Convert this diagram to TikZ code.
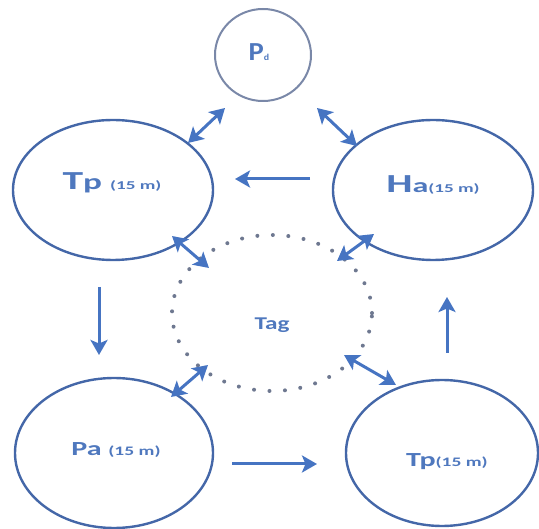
\documentclass[tikz,border=0pt]{standalone}
\usepackage{fontspec}
\setmainfont{Carlito}
\usetikzlibrary{shapes.geometric,arrows.meta}
\definecolor{edge}{HTML}{4467A8}
\definecolor{arr}{HTML}{4674C2}
\definecolor{lbl}{HTML}{4F78BE}
\definecolor{dots}{HTML}{6E7890}
\definecolor{pdring}{HTML}{7A88A8}
\newcommand{\fs}[1]{\fontsize{#1}{#1}\selectfont}
\newcommand{\wide}[2]{\scalebox{#1}[1]{#2}}
\begin{document}
\begin{tikzpicture}[x=1pt,y=-1pt,
  state/.style={ellipse, draw=edge, line width=2.4pt, inner sep=0pt},
  lab/.style={text=lbl, font=\bfseries, anchor=base, inner sep=0pt},
  link/.style={draw=arr, line width=3pt, -{Stealth[length=15pt,width=17pt,inset=3.5pt]}},
  both/.style={draw=arr, line width=3pt, {Stealth[length=15pt,width=17pt,inset=3.5pt]}-{Stealth[length=15pt,width=17pt,inset=3.5pt]}}]
\useasboundingbox (0,0) rectangle (539,529);

% states
\node[ellipse, draw=pdring, line width=2pt, minimum width=96pt, minimum height=92pt] (pd) at (263,55) {};
\node[lab] (pdt) at (259,61) {\wide{1.1}{\fs{26}P\fs{9}d}};
\node[state, minimum width=200pt, minimum height=140pt] (tpa) at (113,190) {};
\node[lab] (tpat) at (112,190) {\wide{1.6}{\fs{26}T\fs{22}p \fs{12}(15 m)}};
\node[state, minimum width=200pt, minimum height=140pt] (ha) at (433,190) {};
\node[lab] (hat) at (433,193) {\wide{1.6}{\fs{26}H\fs{20}a\fs{12}(15 m)}};
\node[ellipse, draw=dots, line width=4pt, dash pattern=on 0pt off 15.5pt, line cap=round,
      minimum width=200pt, minimum height=156pt] (tag) at (272,313) {};
\node[lab] (tagt) at (272,330) {\wide{1.4}{\fs{18}Tag}};
\node[state, minimum width=198pt, minimum height=150pt] (pa) at (114,453) {};
\node[lab] (pat) at (116,456) {\wide{1.5}{\fs{20}Pa \fs{13}(15 m)}};
\node[state, minimum width=192pt, minimum height=146pt] (tpb) at (442,453) {};
\node[lab] (tpbt) at (447,467) {\wide{1.5}{\fs{20}Tp\fs{13}(15 m)}};

% arrow end points
\coordinate (a1) at (188,143);
\coordinate (a2) at (225,108);
\coordinate (b1) at (317,108);
\coordinate (b2) at (357,146);
\coordinate (c1) at (310,179);
\coordinate (c2) at (235,179);
\coordinate (d1) at (172,236);
\coordinate (d2) at (209,268);
\coordinate (e1) at (374,234);
\coordinate (e2) at (337,261);
\coordinate (f1) at (99,287);
\coordinate (f2) at (99,355);
\coordinate (g1) at (447,353);
\coordinate (g2) at (447,297);
\coordinate (h1) at (232,464);
\coordinate (h2) at (317,464);
\coordinate (i1) at (171,397);
\coordinate (i2) at (208,365);
\coordinate (j1) at (344,355);
\coordinate (j2) at (396,385);

% connectors
\draw[both] (a1) -- (a2);
\draw[both] (b1) -- (b2);
\draw[link] (c1) -- (c2);
\draw[both] (d1) -- (d2);
\draw[both] (e1) -- (e2);
\draw[link] (f1) -- (f2);
\draw[link] (g1) -- (g2);
\draw[link] (h1) -- (h2);
\draw[both] (i1) -- (i2);
\draw[both] (j1) -- (j2);
\end{tikzpicture}
\end{document}
